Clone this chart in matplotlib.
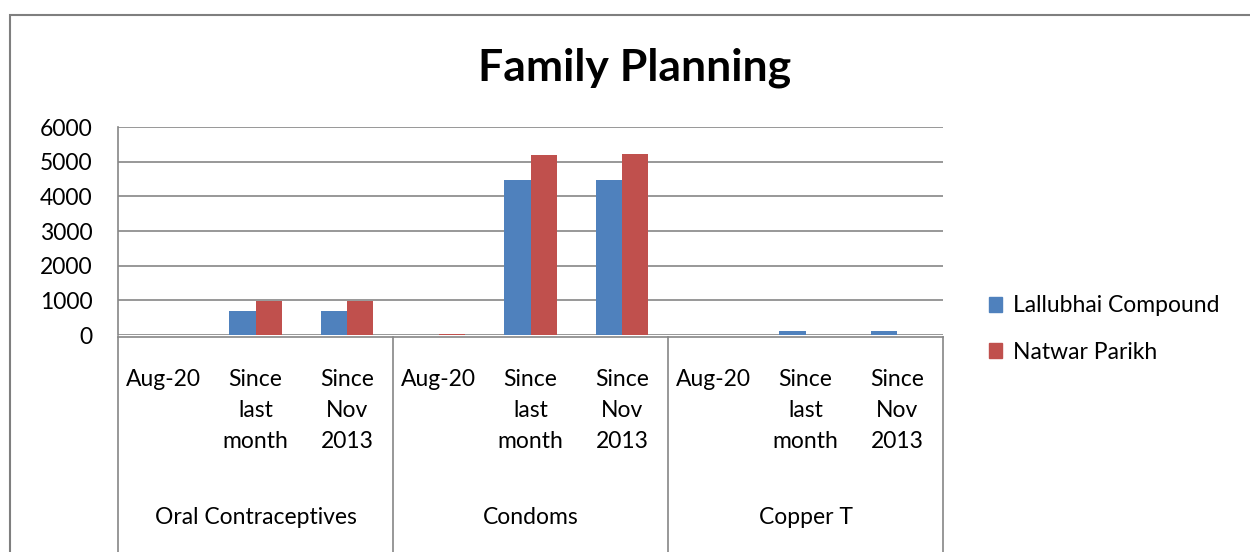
import matplotlib.pyplot as plt
from matplotlib.patches import Rectangle, Patch
from matplotlib.transforms import blended_transform_factory

plt.rcParams['font.family'] = ['Lato', 'DejaVu Sans']

groups = ['Oral Contraceptives', 'Condoms', 'Copper T']
periods = ['Aug-20', 'Since\nlast\nmonth', 'Since\nNov\n2013']
lallubhai = [0, 700, 700, 0, 4460, 4460, 0, 110, 110]
natwar = [0, 980, 980, 25, 5180, 5230, 0, 0, 0]

blue = '#4F81BD'
red = '#C0504D'
grid_c = '#868686'

W, H = 1250, 552
fig = plt.figure(figsize=(12.5, 5.52), dpi=100)
ax = fig.add_axes([118 / W, 1 - 335 / H, (943 - 118) / W, (335 - 127) / H])

n = len(lallubhai)
x = list(range(n))
bw = 1 / 3.5
ax.bar([i - bw / 2 for i in x], lallubhai, width=bw, color=blue, label='Lallubhai Compound', zorder=3)
ax.bar([i + bw / 2 for i in x], natwar, width=bw, color=red, label='Natwar Parikh', zorder=3)

fs = 16.5
ax.set_xlim(-0.5, n - 0.5)
ax.set_ylim(0, 6000)
ax.set_yticks(range(0, 6001, 1000))
ax.tick_params(axis='y', length=0, labelsize=fs, pad=18.5)
ax.tick_params(axis='x', length=0, labelbottom=False)
ax.yaxis.grid(True, color=grid_c, lw=1.2)
ax.set_axisbelow(True)
for s in ['top', 'right', 'bottom']:
    ax.spines[s].set_visible(False)
ax.spines['left'].set_color(grid_c)
ax.spines['left'].set_linewidth(1.2)

# multi-level category axis
trans = blended_transform_factory(ax.transData, ax.transAxes)
ah = 335 - 127
def ya(py):
    return (335 - py) / ah

ax.plot([-0.5, n - 0.5], [ya(337), ya(337)], transform=trans, color=grid_c, lw=1.2, clip_on=False)
for b in [-0.5, 2.5, 5.5, 8.5]:
    ax.plot([b, b], [ya(337), ya(552)], transform=trans, color=grid_c, lw=1.2, clip_on=False)

for g, gname in enumerate(groups):
    for p, pname in enumerate(periods):
        for k, line in enumerate(pname.split('\n')):
            ax.text(g * 3 + p, ya(379 + 31 * k), line, transform=trans, ha='center', va='center',
                    fontsize=fs, clip_on=False)
    ax.text(g * 3 + 1, ya(518), gname, transform=trans, ha='center', va='center', fontsize=fs,
            clip_on=False)

fig.text(635 / W, 1 - 68 / H, 'Family Planning', ha='center', va='center', fontsize=32, fontweight='bold')

handles = [Patch(color=blue), Patch(color=red)]
fig.legend(handles, ['Lallubhai Compound', 'Natwar Parikh'], loc='center left',
           bbox_to_anchor=(968 / W, 1 - 329 / H), frameon=False, fontsize=fs,
           handlelength=0.6, handleheight=0.6, handletextpad=0.45, labelspacing=1.1)

fig.patches.append(Rectangle((10 / W, -0.1), 1.2, 1 - 15 / H + 0.1, transform=fig.transFigure,
                             fill=False, edgecolor='#7f7f7f', lw=1.5))

fig.savefig('out.png', dpi=100)
